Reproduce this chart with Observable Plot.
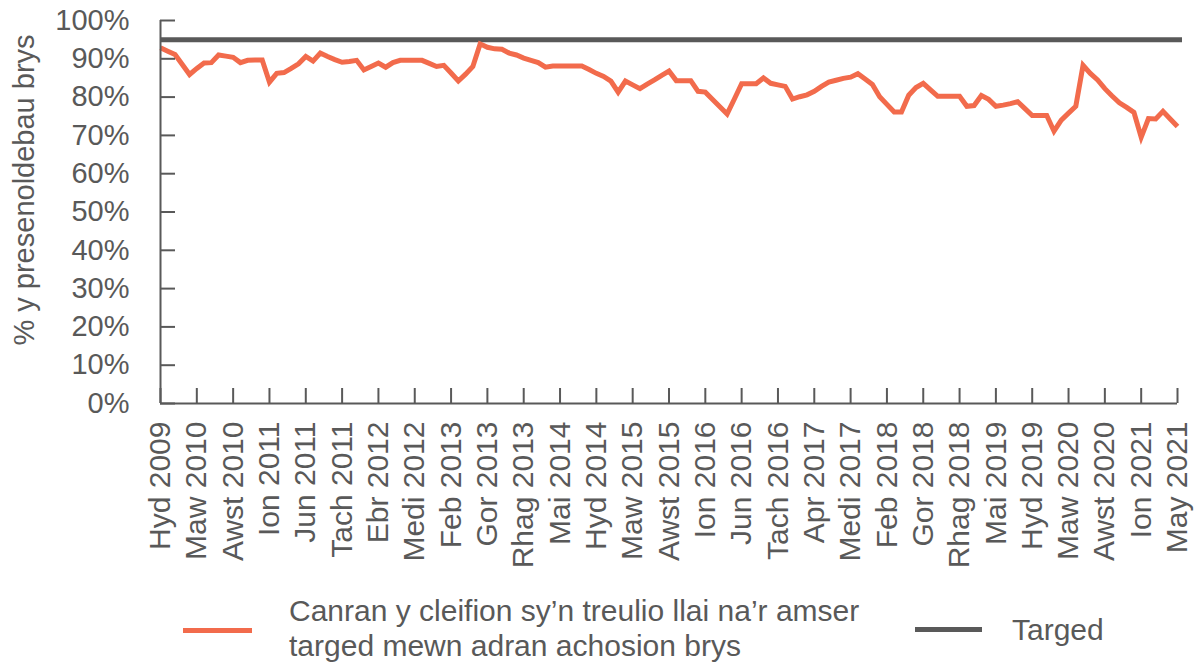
<!DOCTYPE html>
<html>
<head>
<meta charset="utf-8">
<script src="https://cdn.jsdelivr.net/npm/d3@7"></script>
<script src="https://cdn.jsdelivr.net/npm/@observablehq/plot@0.6"></script>
<style>
  html, body { margin: 0; padding: 0; background: #ffffff; overflow: hidden; }
  #wrap { width: 1195px; height: 663px; position: relative; font-family: "Liberation Sans", Arial, sans-serif; color: #595959; }
  #chart svg { display: block; }
  #legend { position: relative; width: 1195px; height: 78px; font-size: 30px; line-height: 35px; }
  .sw { position: absolute; height: 5px; }
  .lt { position: absolute; white-space: nowrap; }
</style>
</head>
<body>
<div id="wrap">
  <div id="chart"></div>
  <div id="legend"></div>
</div>
<script>
// Monthly share (%) from Hyd 2009 to May 2021
const values = [
  92.9, 92.0, 91.1, 88.5, 85.9, 87.5, 88.9, 89.0, 91.0, 90.7,
  90.4, 89.0, 89.6, 89.7, 89.7, 83.9, 86.2, 86.4, 87.5, 88.7,
  90.6, 89.4, 91.5, 90.6, 89.8, 89.1, 89.3, 89.6, 87.1, 88.0,
  88.9, 87.8, 89.0, 89.6, 89.6, 89.6, 89.6, 88.8, 88.0, 88.3,
  86.3, 84.2, 86.0, 88.0, 93.9, 93.0, 92.6, 92.5, 91.5, 91.0,
  90.2, 89.6, 89.0, 87.8, 88.1, 88.1, 88.1, 88.1, 88.1, 87.2,
  86.2, 85.4, 84.2, 81.3, 84.2, 83.2, 82.2, 83.4, 84.5, 85.7,
  86.8, 84.3, 84.3, 84.3, 81.5, 81.3, 79.4, 77.5, 75.6, 79.5,
  83.5, 83.5, 83.5, 85.0, 83.6, 83.2, 82.8, 79.5, 80.1, 80.6,
  81.5, 82.8, 83.9, 84.4, 84.9, 85.2, 86.1, 84.7, 83.3, 80.1,
  78.1, 76.1, 76.1, 80.5, 82.5, 83.6, 81.9, 80.2, 80.2, 80.2,
  80.2, 77.6, 77.8, 80.4, 79.4, 77.6, 77.9, 78.3, 78.8, 77.0,
  75.2, 75.2, 75.2, 71.1, 74.0, 75.8, 77.6, 88.3, 86.2, 84.5,
  82.2, 80.3, 78.5, 77.3, 76.0, 69.5, 74.4, 74.3, 76.3, 74.3,
  72.3
];
const targetValue = 95;
const tickLabels = ["Hyd 2009","Maw 2010","Awst 2010","Ion 2011","Jun 2011","Tach 2011","Ebr 2012","Medi 2012","Feb 2013","Gor 2013","Rhag 2013","Mai 2014","Hyd 2014","Maw 2015","Awst 2015","Ion 2016","Jun 2016","Tach 2016","Apr 2017","Medi 2017","Feb 2018","Gor 2018","Rhag 2018","Mai 2019","Hyd 2019","Maw 2020","Awst 2020","Ion 2021","May 2021"];
const tickIndex = [0,5,10,15,20,25,30,35,40,45,50,55,60,65,70,75,80,85,90,95,100,105,110,115,120,125,130,135,140];
const yTicks = [0,10,20,30,40,50,60,70,80,90,100];
const yTitle = "% y presenoldebau brys";
const seriesName = ["Canran y cleifion sy\u2019n treulio llai na\u2019r amser", "targed mewn adran achosion brys"];
const targetName = "Targed";

const orange = "#F26B4C";
const grey = "#595959";

const data = values.map((v, i) => ({i, v}));
const labelOf = new Map(tickIndex.map((t, k) => [t, tickLabels[k]]));

const chart = Plot.plot({
  width: 1195,
  height: 585,
  marginTop: 20,
  marginBottom: 182,
  marginLeft: 160,
  marginRight: 18,
  style: {fontFamily: "'Liberation Sans', Arial, sans-serif", fontSize: "29px", color: grey, background: "white", overflow: "visible"},
  x: {domain: [0, values.length - 1], axis: null},
  y: {domain: [0, 100], axis: null},
  marks: [
    Plot.ruleY([targetValue], {stroke: grey, strokeWidth: 5, insetRight: -5}),
    Plot.line(data, {x: "i", y: "v", stroke: orange, strokeWidth: 5, strokeLinejoin: "miter", strokeLinecap: "butt", strokeMiterlimit: 4}),
    Plot.ruleX([0], {stroke: grey, strokeWidth: 2}),
    Plot.ruleY([0], {stroke: grey, strokeWidth: 2}),
    Plot.axisY({ticks: yTicks, tickSize: -15, tickPadding: 46, tickFormat: d => d + "%", strokeWidth: 2, label: null, fontSize: 29}),
    Plot.axisX({ticks: tickIndex, tickFormat: d => labelOf.get(d), tickRotate: -90, tickSize: -15, tickPadding: 33, strokeWidth: 2, label: null, fontSize: 30}),
    Plot.text([yTitle], {frameAnchor: "left", textAnchor: "middle", rotate: -90, dx: -136, dy: -22, fill: grey, fontSize: 29})
  ]
});
document.getElementById("chart").appendChild(chart);

const legend = document.getElementById("legend");
legend.innerHTML = `
  <div class="sw" style="left:183px;top:43px;width:69px;background:${orange}"></div>
  <div class="lt" style="left:289px;top:8px;">${seriesName[0]}<br>${seriesName[1]}</div>
  <div class="sw" style="left:915px;top:42px;width:67px;background:${grey}"></div>
  <div class="lt" style="left:1012px;top:27px;">${targetName}</div>
`;
</script>
</body>
</html>
